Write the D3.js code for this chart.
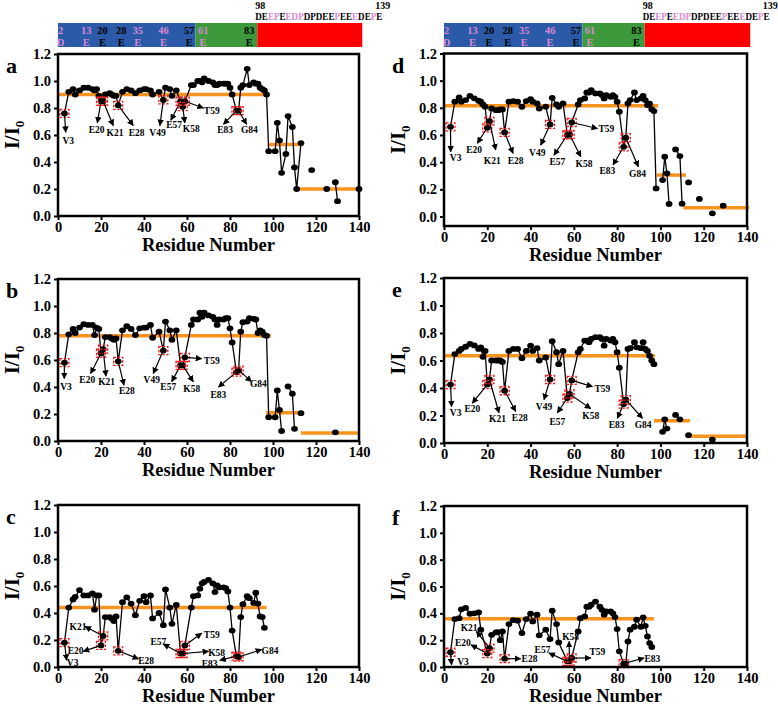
<!DOCTYPE html>
<html>
<head>
<meta charset="utf-8">
<script src="https://cdnjs.cloudflare.com/ajax/libs/d3/7.8.5/d3.min.js"></script>
<style>
body { margin: 0; background: #fff; }
text { font-family: "Liberation Serif", "Times New Roman", serif; font-weight: bold; }
</style>
</head>
<body>
<svg width="778" height="707"></svg>
<script>
// residues of the structured N-terminal part (shared by all panels)
var residues = [3,5,7,8,10,12,14,16,17,18,19,20,21,22,24,25,26,27,28,30,32,34,36,38,40,41,43,44,47,49,50,52,53,55,57,58,59,62,63,65,66,67,68,70,72,73,74,75,77,78,79,80,81,83,84,85,86,88,89,91,92,93,94,95,96,97];

var valA = [.76,.92,.94,.90,.93,.95,.95,.94,.93,.94,.89,.85,.85,.90,.91,.90,.89,.89,.82,.92,.94,.93,.91,.93,.94,.94,.93,.90,.92,.86,.95,.94,.89,.93,.85,.81,.85,.97,.97,1.0,1.0,.99,1.02,1.0,.99,.97,.97,.98,.98,.98,.98,.95,.90,.78,.78,.95,.97,1.09,.97,.99,.98,.98,.95,.94,.93,.90];
var valB = [.58,.79,.83,.80,.84,.865,.86,.86,.785,.84,.83,.65,.68,.77,.77,.76,.75,.76,.59,.82,.85,.83,.785,.835,.84,.84,.86,.765,.81,.67,.885,.82,.75,.82,.56,.56,.62,.86,.90,.90,.95,.92,.95,.93,.92,.90,.86,.90,.90,.91,.91,.835,.73,.51,.525,.81,.88,.885,.91,.905,.90,.80,.82,.81,.785,.78];
var valC = [.18,.44,.50,.52,.57,.53,.53,.545,.425,.53,.53,.16,.23,.37,.37,.36,.34,.375,.12,.48,.515,.47,.384,.49,.525,.48,.53,.36,.40,.31,.575,.44,.32,.46,.10,.10,.16,.44,.525,.53,.58,.62,.63,.645,.62,.555,.605,.59,.59,.585,.56,.44,.27,.08,.074,.37,.465,.525,.51,.475,.55,.47,.375,.37,.29,null];
var valD = [.66,.845,.876,.845,.857,.888,.87,.852,.845,.825,.808,.653,.702,.795,.783,.783,.788,.788,.619,.845,.85,.845,.808,.85,.864,.845,.832,.795,.808,.678,.874,.825,.808,.832,.60,.604,.692,.825,.857,.869,.913,.913,.93,.906,.906,.894,.869,.894,.881,.894,.881,.845,.771,.513,.58,.832,.857,.913,.857,.869,.888,.857,.82,.83,.79,.776];
var valE = [.425,.647,.67,.684,.70,.72,.71,.684,.696,.627,.67,.425,.462,.60,.60,.60,.60,.59,.38,.67,.684,.684,.617,.67,.708,.67,.69,.60,.622,.462,.74,.66,.573,.67,.327,.357,.455,.66,.684,.745,.745,.733,.757,.77,.77,.757,.708,.757,.745,.757,.733,.66,.548,.283,.315,.684,.69,.733,.696,.69,.733,.684,.67,.634,.60,.573];
var valF = [.11,.357,.364,.43,.44,.397,.40,.407,.278,null,null,.10,.14,.24,.258,.26,.20,.265,.062,.32,.35,.345,.253,.357,.397,.34,.39,.236,.278,.208,.42,.32,.183,null,.042,.042,.067,.265,.364,.377,.45,.45,.464,.488,.45,.426,.39,.414,.414,.40,.372,.283,.117,.025,.025,.19,.278,.30,.352,.30,.37,.307,.228,.178,.149,null];

// C-terminal residues (null value = break in the line)
var cResA = [98,101,102,103,104,106,107,109,110,111,113,115,118,120,125,127,129,130,135,140];
var cValA = [.48,.48,.69,.56,.32,.46,.74,.66,.36,.20,.54,null,.34,null,.20,null,.25,.11,null,.20];
var cResB = [98,101,102,103,104,105,107,109,110,111,113,115,129];
var cValB = [.176,.176,.374,.23,.074,null,.404,.35,.09,null,.206,null,.064];
var cResD = [98,100,101,102,103,104,105,107,109,110,111,113,115,118,120,124,126,129];
var cValD = [.207,null,.268,.44,.318,.092,null,.494,.445,.094,null,.251,null,.129,null,.023,null,.08];
var cResE = [98,101,102,103,105,107,109,111,113,115,124];
var cValE = [null,.081,.172,.105,null,.204,.172,null,.057,null,.025];

// mean intensity levels: [from residue, to residue, value]
var meanA = [[0,97.5,.90],[97.5,114,.53],[110,141,.20]];
var meanB = [[0,99,.78],[96.7,113.3,.21],[113,140,.06]];
var meanC = [[0,97,.44]];
var meanD = [[0,99,.815],[98.3,111.8,.305],[110.6,141,.065]];
var meanE = [[0,97.5,.634],[97,113.7,.162],[114.4,140,.05]];
var meanF = [[0,97,.36]];

// labelled residues: [label, residue, arrow end res, arrow end value, label res, label value]
var annA = [["V3",3,3.6,.62,4.8,.56],["E20",20,18.3,.69,18,.64],["K21",21,25.7,.67,26.5,.62],["E28",28,35,.67,36.6,.62],["V49",49,47.4,.67,46.3,.615],["E57",57,52.5,.71,54,.675],["K58",58,59,.69,62,.65],["T59",59,67.6,.80,71.5,.78],["E83",83,77,.68,77.7,.64],["G84",84,87.7,.68,89,.64]];
var annB = [["V3",3,2.9,.463,3.7,.40],["E20",20,15.2,.50,13.6,.456],["K21",21,22.3,.48,22.6,.44],["E28",28,30.7,.414,32,.37],["V49",49,44.3,.50,43.6,.456],["E57",57,52.9,.44,51.3,.40],["K58",58,62.9,.44,62.2,.39],["T59",59,66.8,.61,71.5,.595],["E83",83,74.6,.40,74.6,.34],["G84",84,90,.44,93.2,.426]];
var annC = [["V3",3,4,.05,6.8,.03],["E20",20,11.8,.116,8.2,.12],["K21",21,12.6,.30,9.3,.30],["E28",28,37.4,.06,41,.05],["E57",57,49,.17,46.7,.19],["T59",59,66.8,.25,71.5,.24],["K58",58,70,.116,73.8,.108],["E83",83,75.3,.05,70.5,.026],["G84",84,94.7,.13,98.6,.12]];
var annD = [["V3",3,3.1,.477,5.4,.432],["E20",20,15.4,.54,13.9,.49],["K21",21,23.9,.49,22.3,.41],["E28",28,31.9,.465,33.1,.41],["V49",49,44.7,.526,43.1,.47],["E57",57,50.8,.452,52.4,.40],["K58",58,63.2,.44,64.7,.39],["T59",59,70.9,.648,75,.643],["E83",83,78.1,.379,75.5,.335],["G84",84,89.8,.367,89.4,.318]];
var annE = [["V3",3,3.5,.265,5.4,.22],["E20",20,13.1,.29,13.1,.25],["K21",21,25.4,.22,24.7,.18],["E28",28,33.1,.23,35,.187],["V49",49,46.2,.315,46.2,.265],["E57",57,52.4,.22,52.4,.155],["K58",58,67.8,.25,67.8,.20],["T59",59,68.6,.41,73.2,.396],["E83",83,80.1,.18,79.8,.13],["G84",84,91.7,.18,92,.13]];
var annF = [["V3",3,3.5,.017,8.8,.037],["E20",20,12.5,.165,8.7,.18],["K21",21,15,.265,11.6,.295],["E28",28,35.4,.062,39.5,.062],["E57",57,48.5,.104,45.5,.13],["K58",58,57.8,.19,58.5,.228],["T59",59,67.8,.067,70.9,.117],["E83",83,92.4,.067,96.3,.062]];

// domain bar on top
var regionEdges = [0, 64, 92.7, 141.5];
var barNums = [2,13,20,28,35,46,57,61,83];
var barAA = ["D","E","E","E","E","E","E","E","E"];
var barPink = [1,1,0,0,1,1,0,1,0];
var tailSeq = "DEEPEEDPDPDEEPEEEDEPE";
var tailPink = [0,0,1,1,0,1,1,1,0,0,0,0,0,1,0,0,1,0,0,1,0];

var xTicks = [0,20,40,60,80,100,120,140];
var yTicks = [0,0.2,0.4,0.6,0.8,1.0,1.2];

var svg = d3.select('svg');
var orange = '#f7941d', pink = '#d989d4';

svg.append('defs').append('marker').attr('id','ah')
  .attr('viewBox','0 0 10 10').attr('refX',9).attr('refY',5)
  .attr('markerWidth',5.5).attr('markerHeight',5.5).attr('orient','auto')
  .append('path').attr('d','M0,0 L10,5 L0,10 z').attr('fill','black');

var panels = [
  {id:'a', x0:58, x1:359, yTop:54, yBot:216, vMin:0, vals:valA, cRes:cResA, cVals:cValA, mean:meanA, ann:annA},
  {id:'b', x0:58, x1:359, yTop:279, yBot:441, vMin:0, vals:valB, cRes:cResB, cVals:cValB, mean:meanB, ann:annB},
  {id:'c', x0:58, x1:359, yTop:505, yBot:667, vMin:0, vals:valC, cRes:[], cVals:[], mean:meanC, ann:annC},
  {id:'d', x0:444, x1:747, yTop:53.5, yBot:226, vMin:-0.07, vals:valD, cRes:cResD, cVals:cValD, mean:meanD, ann:annD},
  {id:'e', x0:444, x1:747, yTop:278, yBot:443, vMin:0, vals:valE, cRes:cResE, cVals:cValE, mean:meanE, ann:annE},
  {id:'f', x0:444, x1:747, yTop:506, yBot:667, vMin:0, vals:valF, cRes:[], cVals:[], mean:meanF, ann:annF}
];

function drawPanel(p) {
  var x = d3.scaleLinear().domain([0, 140]).range([p.x0, p.x1]);
  var y = d3.scaleLinear().domain([p.vMin, 1.2]).range([p.yBot, p.yTop]);
  var g = svg.append('g');

  g.selectAll('line.mean').data(p.mean).enter().append('line')
    .attr('x1', d => x(d[0])).attr('x2', d => x(d[1]))
    .attr('y1', d => y(d[2])).attr('y2', d => y(d[2]))
    .attr('stroke', orange).attr('stroke-width', 3.5);

  var pts = residues.map((r, i) => ({r: r, v: p.vals[i]})).filter(d => d.v != null)
    .concat(p.cRes.map((r, i) => ({r: r, v: p.cVals[i]})));
  var line = d3.line().defined(d => d.v != null).x(d => x(d.r)).y(d => y(d.v));
  g.append('path').attr('d', line(pts)).attr('fill', 'none')
    .attr('stroke', 'black').attr('stroke-width', 1.3);
  g.selectAll('ellipse').data(pts.filter(d => d.v != null)).enter().append('ellipse')
    .attr('cx', d => x(d.r)).attr('cy', d => y(d.v)).attr('rx', 3.4).attr('ry', 2.9)
    .attr('fill', 'black');

  p.ann.forEach(a => {
    var pt = pts.find(d => d.r === a[1]);
    var px = x(pt.r), py = y(pt.v);
    g.append('rect').attr('x', px - 4.5).attr('y', py - 4).attr('width', 9).attr('height', 8)
      .attr('fill', 'none').attr('stroke', '#ee1c1c').attr('stroke-width', 1.3)
      .attr('stroke-dasharray', '2.5,1.5');
    g.append('line').attr('x1', px).attr('y1', py).attr('x2', x(a[2])).attr('y2', y(a[3]))
      .attr('stroke', 'black').attr('stroke-width', 1.2).attr('marker-end', 'url(#ah)');
    g.append('text').attr('x', x(a[4])).attr('y', y(a[5])).attr('dy', '0.35em')
      .attr('text-anchor', 'middle').attr('font-size', 9.5).text(a[0]);
  });

  g.append('rect').attr('x', p.x0).attr('y', p.yTop).attr('width', p.x1 - p.x0)
    .attr('height', p.yBot - p.yTop).attr('fill', 'none').attr('stroke', 'black').attr('stroke-width', 2.5);

  var xa = g.append('g').attr('transform', 'translate(0,' + p.yBot + ')')
    .call(d3.axisBottom(x).tickValues(xTicks).tickSize(4).tickPadding(2).tickFormat(d3.format('d')));
  var ya = g.append('g').attr('transform', 'translate(' + p.x0 + ',0)')
    .call(d3.axisLeft(y).tickValues(yTicks).tickSize(4).tickPadding(3).tickFormat(d3.format('.1f')));
  [xa, ya].forEach(ax => {
    ax.select('.domain').remove();
    ax.selectAll('line').attr('stroke-width', 2);
    ax.selectAll('text').attr('font-size', 14.5).attr('font-family', null);
  });

  g.append('text').attr('x', (p.x0 + p.x1) / 2).attr('y', p.yBot + 35)
    .attr('text-anchor', 'middle').attr('font-size', 18.5).text('Residue Number');

  var yl = g.append('text').attr('text-anchor', 'middle').attr('font-size', 21)
    .attr('transform', 'translate(' + (p.x0 - 39) + ',' + ((p.yTop + p.yBot) / 2) + ') rotate(-90)');
  yl.append('tspan').text('I/I');
  yl.append('tspan').attr('font-size', 13).attr('dy', 5).text('0');

  g.append('text').attr('x', p.x0 - 52).attr('y', p.yTop + 19).attr('font-size', 22).text(p.id);
}

function drawBar(x0, x1) {
  var x = d3.scaleLinear().domain([0, 140]).range([x0, x1]);
  var cols = ['#2b5aa8', '#3c9a3c', '#ff0000'];
  var g = svg.append('g');
  g.selectAll('rect').data(d3.range(regionEdges.length - 1)).enter().append('rect')
    .attr('x', i => x(regionEdges[i])).attr('width', i => x(regionEdges[i + 1]) - x(regionEdges[i]))
    .attr('y', 23).attr('height', 24).attr('fill', i => cols[i]);
  // schematic label placement along the bar
  var bx = d3.scaleLinear().domain([0, 57, 61, 83]).range([x(-1), x(61), x(67.5), x(89)]);
  barNums.forEach((n, i) => {
    var c = barPink[i] ? pink : 'black';
    g.append('text').attr('x', bx(n)).attr('y', 34).attr('text-anchor', 'middle')
      .attr('font-size', 10.5).attr('fill', c).text(n);
    g.append('text').attr('x', bx(n)).attr('y', 45.5).attr('text-anchor', 'middle')
      .attr('font-size', 10.5).attr('fill', c).text(barAA[i]);
  });
  var s0 = x(regionEdges[2]) - 2, s1 = x(regionEdges[2]) + 125;
  g.append('text').attr('x', s0).attr('y', 9).attr('font-size', 10).text('98');
  g.append('text').attr('x', s1 + 8).attr('y', 9).attr('text-anchor', 'end').attr('font-size', 10).text('139');
  var t = g.append('text').attr('x', s0).attr('y', 20).attr('font-size', 10)
    .attr('textLength', s1 - s0).attr('lengthAdjust', 'spacingAndGlyphs');
  tailSeq.split('').forEach((ch, i) => {
    t.append('tspan').attr('fill', tailPink[i] ? pink : 'black').text(ch);
  });
}

drawBar(58, 359);
drawBar(444, 747);
panels.forEach(drawPanel);
</script>
</body>
</html>
